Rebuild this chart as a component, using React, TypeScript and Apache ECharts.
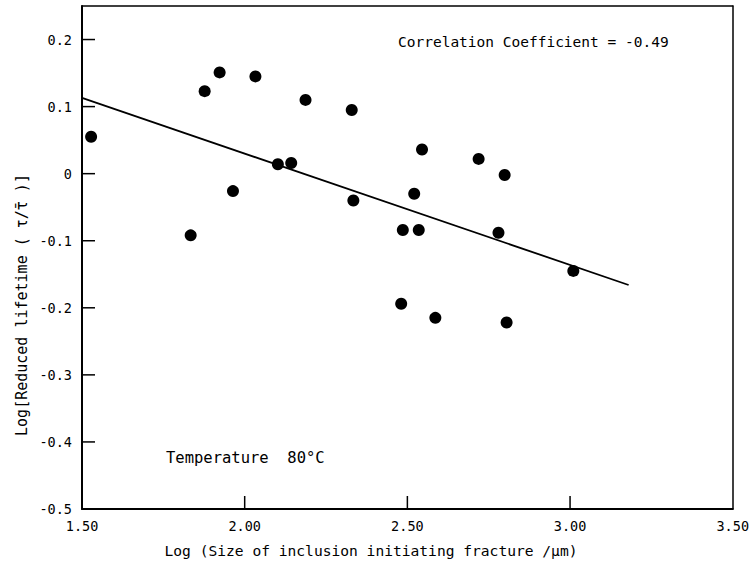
import React, { useEffect, useRef } from "react";
import * as echarts from "echarts";

const sizeLog: number[] = [
  1.528, 1.834, 1.877, 1.923, 1.964, 2.033, 2.102, 2.143, 2.187, 2.329, 2.334,
  2.545, 2.521, 2.486, 2.535, 2.719, 2.799, 2.78, 3.01, 2.481, 2.586, 2.805,
];
const lifetimeLog: number[] = [
  0.055, -0.092, 0.123, 0.151, -0.026, 0.145, 0.014, 0.016, 0.11, 0.095, -0.04,
  0.036, -0.03, -0.084, -0.084, 0.022, -0.002, -0.088, -0.145, -0.194, -0.215, -0.222,
];
const fitX: number[] = [1.5, 3.18];
const fitY: number[] = [0.113, -0.166];
const xTickValues: number[] = [2.0, 2.5, 3.0];
const yTickValues: number[] = [-0.4, -0.3, -0.2, -0.1, 0, 0.1, 0.2];

const X_MIN = 1.5;
const X_MAX = 3.5;
const Y_MIN = -0.5;
const Y_MAX = 0.25;
const FONT = "DejaVu Sans Mono";
const TICK_LEN = 13;

export default function App() {
  const ref = useRef<HTMLDivElement>(null);
  useEffect(() => {
    if (!ref.current) return;
    const chart = echarts.init(ref.current, null, { renderer: "svg" });
    const frameAxis = {
      type: "value",
      axisLine: { show: true, onZero: false, lineStyle: { color: "#000", width: 1.5 } },
      axisTick: { show: false },
      axisLabel: { show: false },
      splitLine: { show: false },
    };
    const texts = [
      {
        type: "text",
        x: 22,
        y: 305,
        rotation: Math.PI / 2,
        style: {
          text: "{a|Log[Reduced lifetime ( \u03c4/}{b|\u03c4\u0304}{a| )]}",
          rich: {
            a: { fontFamily: FONT, fontSize: 15, fill: "#000" },
            b: { fontFamily: "DejaVu Sans", fontSize: 15, fill: "#000" },
          },
          fill: "#000",
          font: `15px "${FONT}"`,
          align: "center",
          verticalAlign: "middle",
        },
      },
      {
        type: "text",
        x: 371,
        y: 550,
        style: {
          text: "Log (Size of inclusion initiating fracture /\u03bcm)",
          fill: "#000",
          font: `14.6px "${FONT}"`,
          align: "center",
          verticalAlign: "middle",
        },
      },
      {
        type: "text",
        x: 398,
        y: 42,
        style: {
          text: "Correlation Coefficient = -0.49",
          fill: "#000",
          font: `14.5px "${FONT}"`,
          align: "left",
          verticalAlign: "middle",
        },
      },
      {
        type: "text",
        x: 166,
        y: 458,
        style: {
          text: "Temperature  80\u00b0C",
          fill: "#000",
          font: `15.5px "${FONT}"`,
          align: "left",
          verticalAlign: "middle",
        },
      },
    ];
    chart.setOption({
      animation: false,
      backgroundColor: "#fff",
      grid: { left: 82, right: 18, top: 6, bottom: 55 },
      xAxis: [
        {
          type: "value",
          min: X_MIN,
          max: X_MAX,
          interval: 0.5,
          position: "bottom",
          axisLine: { show: true, onZero: false, lineStyle: { color: "#000", width: 2 } },
          axisTick: { show: false },
          axisLabel: {
            formatter: (v: number) => v.toFixed(2),
            color: "#000",
            fontFamily: FONT,
            fontSize: 13.5,
            margin: 10,
          },
          splitLine: { show: false },
        },
        { ...frameAxis, min: X_MIN, max: X_MAX, position: "top" },
      ],
      yAxis: [
        {
          type: "value",
          min: Y_MIN,
          max: Y_MAX,
          interval: 0.1,
          position: "left",
          axisLine: { show: true, onZero: false, lineStyle: { color: "#000", width: 2 } },
          axisTick: { show: false },
          axisLabel: {
            formatter: (v: number) =>
              v > 0.21 ? "" : Math.abs(v) < 1e-9 ? "0" : String(Math.round(v * 10) / 10),
            color: "#000",
            fontFamily: FONT,
            fontSize: 13.5,
            margin: 10,
          },
          splitLine: { show: false },
        },
        { ...frameAxis, min: Y_MIN, max: Y_MAX, position: "right" },
      ],
      graphic: texts,
      series: [
        {
          type: "line",
          xAxisIndex: 0,
          yAxisIndex: 0,
          data: fitX.map((x, i) => [x, fitY[i]]),
          showSymbol: false,
          symbol: "none",
          lineStyle: { color: "#000", width: 1.8 },
          z: 2,
        },
        {
          type: "scatter",
          xAxisIndex: 0,
          yAxisIndex: 0,
          data: sizeLog.map((x, i) => [x, lifetimeLog[i]]),
          symbol: "circle",
          symbolSize: 12,
          itemStyle: { color: "#000", opacity: 1 },
          z: 3,
        },
      ],
    });
    // Tick marks placed through the chart's own axis scales
    const tickLines: any[] = [];
    xTickValues.forEach((v) => {
      const p = chart.convertToPixel({ xAxisIndex: 0, yAxisIndex: 0 }, [v, Y_MIN]) as number[];
      tickLines.push({
        type: "line",
        shape: { x1: p[0], y1: p[1], x2: p[0], y2: p[1] - TICK_LEN },
        style: { stroke: "#000", lineWidth: 1.5 },
        z: 10,
      });
    });
    yTickValues.forEach((v) => {
      const p = chart.convertToPixel({ xAxisIndex: 0, yAxisIndex: 0 }, [X_MIN, v]) as number[];
      tickLines.push({
        type: "line",
        shape: { x1: p[0], y1: p[1], x2: p[0] + TICK_LEN, y2: p[1] },
        style: { stroke: "#000", lineWidth: 1.5 },
        z: 10,
      });
    });
    chart.setOption({ graphic: [...texts, ...tickLines] });
    return () => chart.dispose();
  }, []);
  return <div ref={ref} style={{ width: 752, height: 564, position: "absolute", left: 0, top: 0 }} />;
}
